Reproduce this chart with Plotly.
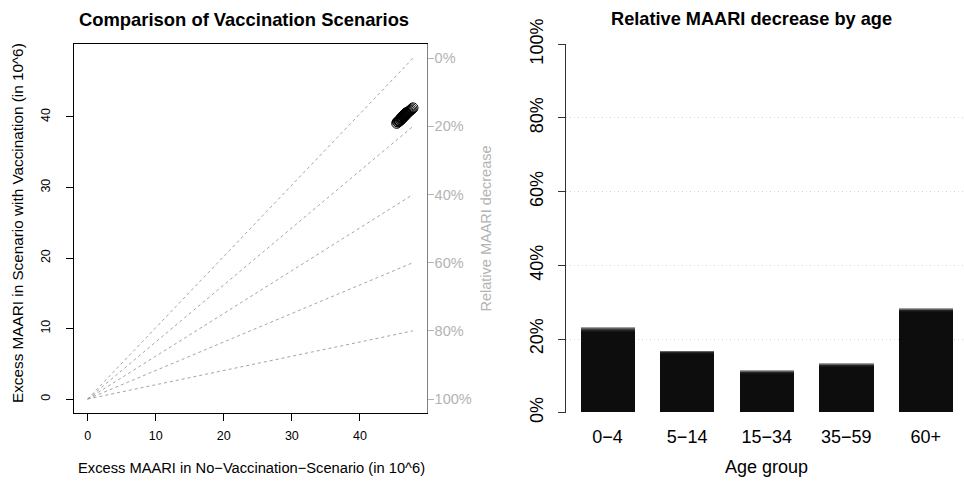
import plotly.graph_objects as go

W, H = 964, 483

# ---------------- data ----------------
# Left panel: simulated scenario pairs (in 10^6)
no_vacc = [45.4, 45.5, 45.6, 45.7, 45.8, 45.8, 45.9, 46.0, 46.0, 46.1,
           46.1, 46.2, 46.2, 46.3, 46.3, 46.4, 46.4, 46.5, 46.5, 46.6,
           46.6, 46.7, 46.7, 46.8, 46.8, 46.9, 47.0, 47.1, 47.2, 47.35,
           47.5, 47.65, 47.8]
with_vacc = [39.1, 39.3, 39.3, 39.4, 39.5, 39.4, 39.6, 39.6, 39.8, 39.7,
             39.9, 39.8, 40.0, 39.9, 40.1, 40.0, 40.2, 40.1, 40.3, 40.2,
             40.4, 40.3, 40.5, 40.4, 40.6, 40.5, 40.6, 40.7, 40.8, 40.9,
             41.0, 41.15, 41.3]
ref_decrease = [0.0, 0.2, 0.4, 0.6, 0.8]            # dashed reference lines
pct_ticks = [0.0, 0.2, 0.4, 0.6, 0.8, 1.0]
pct_labels = ["0%", "20%", "40%", "60%", "80%", "100%"]
ref_x_end = 47.8
ref_y_end = 48.35

# Right panel: relative MAARI decrease by age (overlaid draws)
age_groups = ["0\u22124", "5\u221214", "15\u221234", "35\u221259", "60+"]
draw_1 = [0.218, 0.159, 0.105, 0.124, 0.273]
draw_2 = [0.221, 0.161, 0.107, 0.126, 0.275]
draw_3 = [0.224, 0.163, 0.109, 0.128, 0.277]
draw_4 = [0.226, 0.165, 0.111, 0.130, 0.279]
draw_5 = [0.229, 0.166, 0.112, 0.132, 0.281]
draw_6 = [0.232, 0.168, 0.114, 0.134, 0.283]
draws = [draw_1, draw_2, draw_3, draw_4, draw_5, draw_6]
bar_ticks = [0.0, 0.2, 0.4, 0.6, 0.8, 1.0]
bar_labels = ["0%", "20%", "40%", "60%", "80%", "100%"]
grid_ticks = [0.2, 0.4, 0.6, 0.8]

FONT = "Liberation Sans, Arial, sans-serif"
GRAY = "#b3b3b3"

fig = go.Figure()

# dashed reference lines live on the right-hand percentage axis (same scale)
for p in ref_decrease:
    fig.add_trace(go.Scatter(
        x=[0, ref_x_end], y=[0, ref_y_end * (1 - p)], mode="lines",
        line=dict(color="#9a9a9a", width=0.9, dash="3px,3px"),
        xaxis="x", yaxis="y3", showlegend=False, hoverinfo="skip"))

fig.add_trace(go.Scatter(
    x=no_vacc, y=with_vacc, mode="markers",
    marker=dict(symbol="circle-open", size=10, color="black",
                line=dict(width=1.0, color="black")),
    xaxis="x", yaxis="y", showlegend=False))

for i, d in enumerate(draws):
    fig.add_trace(go.Bar(
        x=age_groups, y=d, width=0.68, marker=dict(color="black", line=dict(width=0)),
        opacity=0.38, xaxis="x2", yaxis="y2" if i < 3 else "y4", showlegend=False))

def px_x(px):
    return px / W

def px_y(py):
    return 1 - py / H

y_dom = [px_y(412.7), px_y(44.3)]
y_range = [-1.94, 50.31]

fig.update_layout(
    width=W, height=H, margin=dict(l=0, r=0, t=0, b=0, autoexpand=False),
    paper_bgcolor="white", plot_bgcolor="white",
    font=dict(family=FONT, color="black"),
    barmode="overlay", bargap=0,
    xaxis=dict(domain=[px_x(74), px_x(426.7)], anchor="y",
               range=[-2.01, 49.81], tickvals=[0, 10, 20, 30, 40],
               ticks="outside", ticklen=7, tickcolor="black",
               showline=True, mirror=True, linecolor="black", linewidth=1,
               showgrid=False, zeroline=False, tickfont=dict(size=12.5),
               ticklabelstandoff=4),
    yaxis=dict(domain=y_dom, anchor="x",
               range=y_range, tickvals=[0, 10, 20, 30, 40],
               ticks="outside", ticklen=7, tickcolor="black", tickangle=-90,
               showline=True, mirror=False, linecolor="black", linewidth=1,
               showgrid=False, zeroline=False, tickfont=dict(size=12.5),
               ticklabelstandoff=11),
    yaxis3=dict(overlaying="y", anchor="x", side="right",
                range=y_range,
                tickvals=[ref_y_end * (1 - p) for p in pct_ticks],
                ticktext=pct_labels,
                ticks="outside", ticklen=6, tickcolor=GRAY,
                showline=True, linecolor="#808080", linewidth=1,
                showgrid=False, zeroline=False,
                tickfont=dict(size=14.5, color=GRAY), ticklabelstandoff=-2),
    xaxis2=dict(domain=[px_x(565.7), 1.0], anchor="y2", type="category",
                range=[-0.526, 4.48], showline=False, ticks="",
                showgrid=False, zeroline=False, tickfont=dict(size=18),
                ticklabelstandoff=11),
    yaxis2=dict(domain=y_dom, anchor="x2", range=[0, 1],
                tickvals=bar_ticks, ticktext=bar_labels, tickangle=-90,
                ticks="outside", ticklen=7, tickcolor="#333333",
                showline=True, linecolor="#333333", linewidth=1,
                showgrid=False, zeroline=False, tickfont=dict(size=18),
                ticklabelstandoff=8),
    yaxis4=dict(overlaying="y2", anchor="x2", range=[0, 1],
                tickvals=grid_ticks, showticklabels=False, ticks="",
                showgrid=True, gridcolor="#d6d6d6", gridwidth=1,
                griddash="1px,3px", showline=False, zeroline=False),
)

ann = [
    dict(text="<b>Comparison of Vaccination Scenarios</b>", x=px_x(244), y=px_y(19),
         font=dict(size=18.4)),
    dict(text="<b>Relative MAARI decrease by age</b>", x=px_x(751.5), y=px_y(19),
         font=dict(size=18.2)),
    dict(text="Excess MAARI in No\u2212Vaccination\u2212Scenario (in 10^6)",
         x=px_x(251), y=px_y(468), font=dict(size=14.7)),
    dict(text="Excess MAARI in Scenario with Vaccination (in 10^6)",
         x=px_x(17), y=px_y(223), textangle=-90, font=dict(size=15.3)),
    dict(text="Relative MAARI decrease", x=px_x(485), y=px_y(228.5), textangle=-90,
         font=dict(size=14.5, color=GRAY)),
    dict(text="Age group", x=px_x(766), y=px_y(467), font=dict(size=18)),
]
for a in ann:
    a.update(xref="paper", yref="paper", showarrow=False,
             xanchor="center", yanchor="middle")
fig.update_layout(annotations=ann)

fig.write_html("out.html")
